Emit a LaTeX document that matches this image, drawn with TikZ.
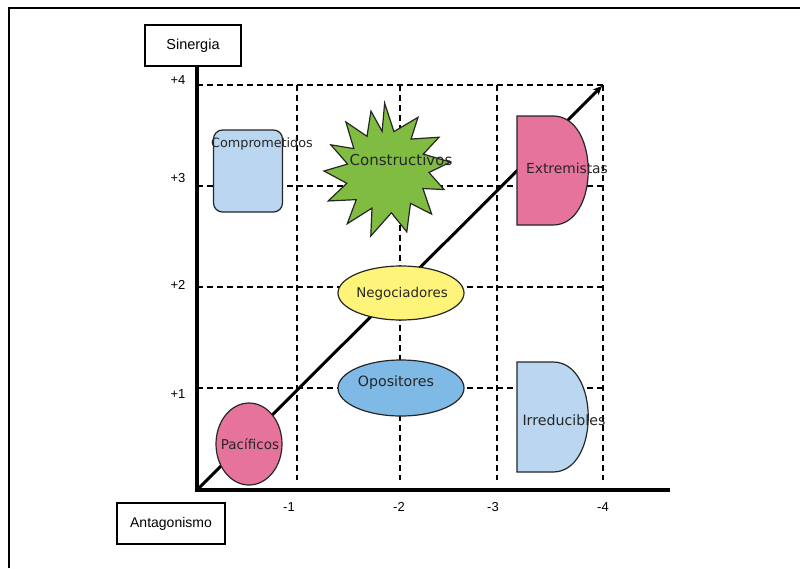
\documentclass[tikz,border=0pt]{standalone}
\usepackage{fontspec}
\setmainfont{Liberation Sans}
\newfontfamily\shapefont{DejaVu Sans}
\usetikzlibrary{shapes.geometric,arrows.meta}
\definecolor{pinkfill}{HTML}{E6739C}
\definecolor{lightblue}{HTML}{BAD6F0}
\definecolor{midblue}{HTML}{7FBAE6}
\definecolor{greenfill}{HTML}{80BC42}
\definecolor{yellowfill}{HTML}{FFF47A}
\tikzset{
  axis/.style={line width=3.5pt, black},
  grid/.style={line width=1.4pt, dash pattern=on 6pt off 4pt, black},
  diag/.style={line width=3pt, black},
  labelbox/.style={draw, line width=1.2pt, minimum width=96pt, minimum height=41pt, font=\fontsize{14.5}{16}\selectfont, inner sep=0pt},
  ticklabel/.style={font=\fontsize{13}{15}\selectfont, inner sep=0pt},
  shapeline/.style={line width=1.2pt, draw=black!85},
  shapetext/.style={font=\shapefont\fontsize{13.4}{15}\selectfont, inner sep=0pt, text=black!85}
}
\begin{document}
\begin{tikzpicture}[x=1pt, y=-1pt]
\useasboundingbox (0,0) rectangle (800,568);
\fill[white] (0,0) rectangle (800,568);
% frame
\draw[line width=2pt] (9,568) -- (9,8) -- (800,8);

% coordinates
\coordinate (O) at (197,490);
\coordinate (Ytop) at (197,66);
\coordinate (Xend) at (670,490);
\coordinate (D) at (602,86);

% grid
\foreach \yy in {85,186,287,388} {
  \draw[grid] (197,\yy) -- (603,\yy);
}
\foreach \xx in {297,400,497,603} {
  \draw[grid] (\xx,85) -- (\xx,480);
}

% diagonal
\draw[diag, -{Stealth[length=9pt, width=8pt]}] (O) -- (D);

% Comprometidos
\node[draw, shapeline, fill=lightblue, rounded corners=9pt, minimum width=69pt, minimum height=82pt] (compbox) at (248,171) {};
\node[shapetext, font=\shapefont\fontsize{12.8}{14}\selectfont] (comp) at (262,144) {Comprometidos};

% Constructivos star
\begin{scope}[shift={(387,171)}]
\filldraw[shapeline, fill=greenfill, line join=miter]
  (-92:68) -- (-80:40) -- (-60:62) -- (-53:40) -- (-33:62) -- (-25:40) -- (-8:64) -- (2:42)
  -- (18:60) -- (26:40) -- (44:62) -- (54:40) -- (72:64) -- (84:42) -- (104:67) -- (112:40)
  -- (127:66) -- (137:42) -- (153:66) -- (163:42) -- (180:63) -- (190:40) -- (205:62) -- (214:40)
  -- (230:64) -- (240:40) -- (255:62) -- (263:40) -- cycle;
\end{scope}
\node[shapetext, font=\shapefont\fontsize{15}{17}\selectfont] (cons) at (401,160) {Constructivos};

% Extremistas
\filldraw[shapeline, fill=pinkfill] (517,116) -- (553,116) .. controls (600,116) and (600,225) .. (553,225) -- (517,225) -- cycle;
\node[shapetext, font=\shapefont\fontsize{13.8}{15}\selectfont] (ext) at (567,168) {Extremistas};

% Negociadores
\node[draw, shapeline, ellipse, fill=yellowfill, minimum width=126pt, minimum height=54pt, inner sep=0pt] (negs) at (401,293) {};
\node[shapetext] (neg) at (402,294) {Negociadores};

% Opositores
\node[draw, shapeline, ellipse, fill=midblue, minimum width=126pt, minimum height=56pt, inner sep=0pt] (opos) at (401,388) {};
\node[shapetext, font=\shapefont\fontsize{14.2}{16}\selectfont] (opo) at (396,383) {Opositores};

% Pacificos
\node[draw, shapeline, ellipse, fill=pinkfill, minimum width=66pt, minimum height=82pt, inner sep=0pt] (pacs) at (249,444) {};
\node[shapetext, font=\shapefont\fontsize{13.5}{15}\selectfont] (pac) at (250,444) {Pacíficos};

% Irreducibles
\filldraw[shapeline, fill=lightblue] (517,362) -- (553,362) .. controls (600,362) and (600,472) .. (553,472) -- (517,472) -- cycle;
\node[shapetext, font=\shapefont\fontsize{14.2}{16}\selectfont] (irr) at (564,420) {Irreducibles};

% axes
\draw[axis] (Ytop) -- (O) -- (Xend);

% axis boxes
\node[labelbox] (sin) at (193,45.5) {Sinergia};
\node[labelbox, minimum width=108pt, minimum height=41pt, font=\fontsize{14}{16}\selectfont] (ant) at (171,523.5) {Antagonismo};

% tick labels
\node[ticklabel] (p4) at (178,80) {+4};
\node[ticklabel] (p3) at (178,178) {+3};
\node[ticklabel] (p2) at (178,285) {+2};
\node[ticklabel] (p1) at (178,394) {+1};
\node[ticklabel] (m1) at (289,507) {-1};
\node[ticklabel] (m2) at (399,507) {-2};
\node[ticklabel] (m3) at (493,507) {-3};
\node[ticklabel] (m4) at (603,507) {-4};
\end{tikzpicture}
\end{document}
